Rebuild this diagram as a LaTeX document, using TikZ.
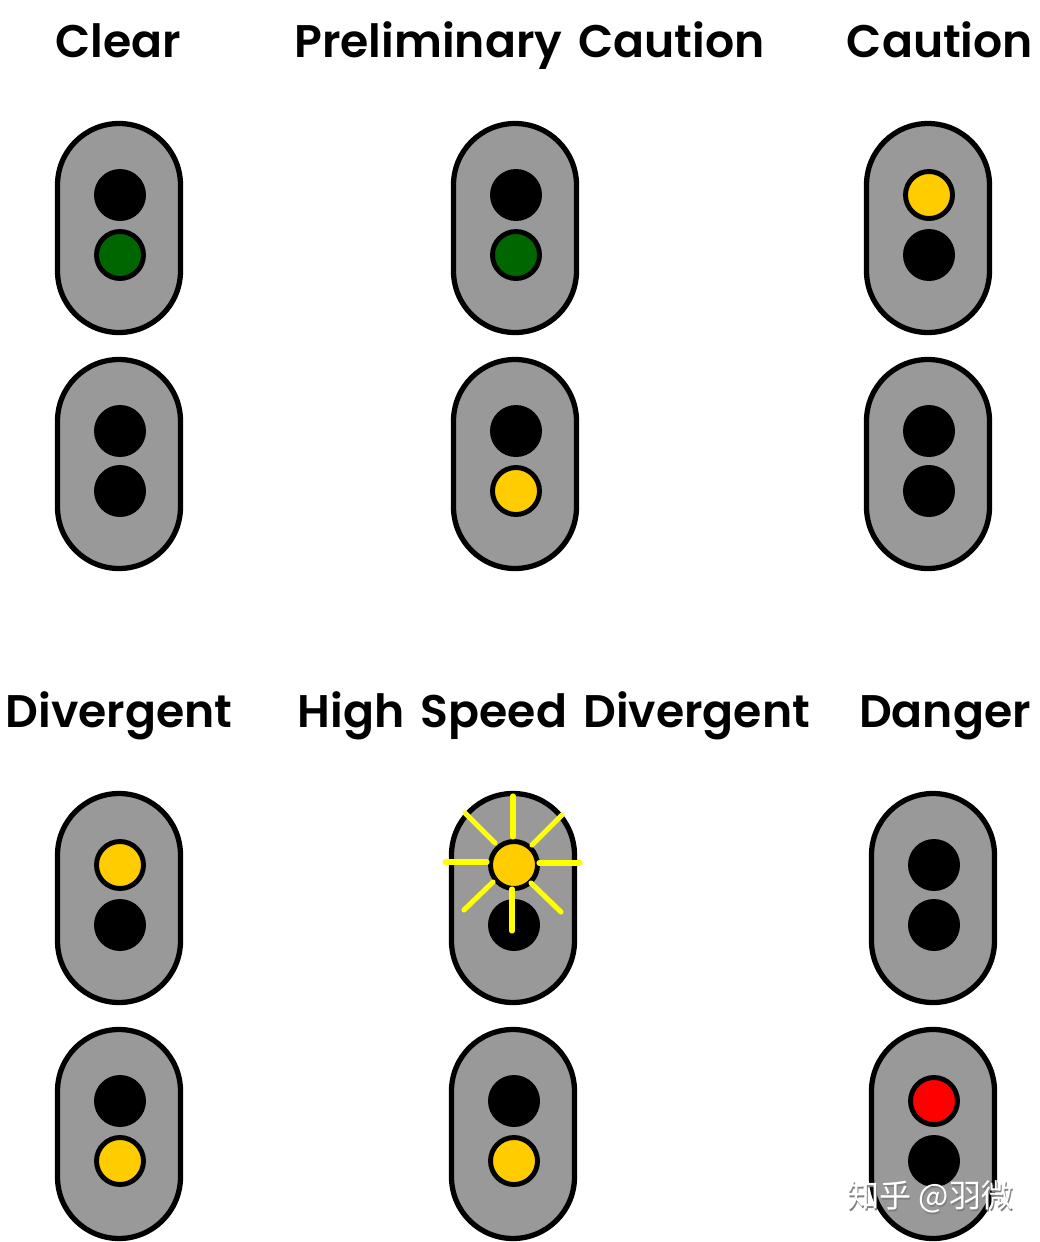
\documentclass[tikz,border=0pt]{standalone}
\usepackage{fontspec}
\setmainfont[UprightFont=* SemiBold,WordSpace=1.5]{Poppins}
\newfontfamily\cjk{Noto Sans CJK SC}
\definecolor{housinggray}{HTML}{999999}
\definecolor{lampgreen}{HTML}{006600}
\definecolor{lampamber}{HTML}{FFCC00}
\definecolor{lampred}{HTML}{FF0000}
\definecolor{rayyellow}{HTML}{FFFF00}
\tikzset{
	housing/.style={draw=black,fill=housinggray,line width=1.5pt,rounded corners=.615cm},
	lampoff/.style={fill=black},
	lampon/.style={draw=black,line width=1.4pt},
	ray/.style={rayyellow,line width=1.45pt,line cap=round},
	title/.style={font=\fontsize{13}{15}\selectfont,inner sep=0pt,anchor=base},
	mark shadow/.style={font=\cjk\fontsize{9.1}{10}\selectfont,inner sep=0pt},
}
\begin{document}
\begin{tikzpicture}[x=.01cm,y=-.01cm]
	\useasboundingbox (0,0) rectangle (1039,1242);
	
	\node[title] (clear) at (118,57){Clear};
	\node[title] (prelim) at (529.5,57){Preliminary Caution};
	\node[title] (caution) at (940,57){Caution};
	\node[title] (divergent) at (119,727){Divergent};
	\node[title] (highspeed) at (554,727){High Speed Divergent};
	\node[title] (danger) at (945,727){Danger};
	
	% clear
	\draw[housing] (57.5,123.5) rectangle (180.5,332.5);
	\fill[lampoff] (120,195) circle(26);
	\draw[lampon,fill=lampgreen] (120,255) circle(23.5);
	\draw[housing] (57.5,359.5) rectangle (180.5,568.5);
	\fill[lampoff] (120,431) circle(26);
	\fill[lampoff] (120,491) circle(26);
	
	% preliminary caution
	\draw[housing] (453.5,123.5) rectangle (576.5,332.5);
	\fill[lampoff] (516,195) circle(26);
	\draw[lampon,fill=lampgreen] (516,255) circle(23.5);
	\draw[housing] (453.5,359.5) rectangle (576.5,568.5);
	\fill[lampoff] (516,431) circle(26);
	\draw[lampon,fill=lampamber] (516,491) circle(23.5);
	
	% caution
	\draw[housing] (866.5,123.5) rectangle (989.5,332.5);
	\draw[lampon,fill=lampamber] (929,195) circle(23.5);
	\fill[lampoff] (929,255) circle(26);
	\draw[housing] (866.5,359.5) rectangle (989.5,568.5);
	\fill[lampoff] (929,431) circle(26);
	\fill[lampoff] (929,491) circle(26);
	
	% divergent
	\draw[housing] (57.5,793.5) rectangle (180.5,1002.5);
	\draw[lampon,fill=lampamber] (120,865) circle(23.5);
	\fill[lampoff] (120,925) circle(26);
	\draw[housing] (57.5,1029.5) rectangle (180.5,1238.5);
	\fill[lampoff] (120,1101) circle(26);
	\draw[lampon,fill=lampamber] (120,1161) circle(23.5);
	
	% high speed divergent
	\draw[housing] (451.5,793.5) rectangle (574.5,1002.5);
	\fill[lampoff] (514,925) circle(26);
	\draw[lampon,fill=lampamber] (514,865) circle(23.5);
	\draw[ray] (513,796) -- (513,837);
	\draw[ray] (532,845) -- (562,815);
	\draw[ray] (465,813) -- (495,843);
	\draw[ray] (445,862) -- (487,862);
	\draw[ray] (539,863) -- (580,863);
	\draw[ray] (493,882) -- (464,910);
	\draw[ray] (531,883) -- (561,912);
	\draw[ray] (512,889) -- (512,931);
	\draw[housing] (451.5,1029.5) rectangle (574.5,1238.5);
	\fill[lampoff] (514,1101) circle(26);
	\draw[lampon,fill=lampamber] (514,1161) circle(23.5);
	
	% danger
	\draw[housing] (871.5,793.5) rectangle (994.5,1002.5);
	\fill[lampoff] (934,865) circle(26);
	\fill[lampoff] (934,925) circle(26);
	\draw[housing] (871.5,1029.5) rectangle (994.5,1238.5);
	\draw[lampon,fill=lampred] (934,1101) circle(23.5);
	\fill[lampoff] (934,1161) circle(26);
	
	\node[mark shadow,text=gray] (markback) at (931.5,1198.5){知乎 @羽微};
	\node[mark shadow,text=white] (mark) at (930.5,1197){知乎 @羽微};
\end{tikzpicture}
\end{document}
